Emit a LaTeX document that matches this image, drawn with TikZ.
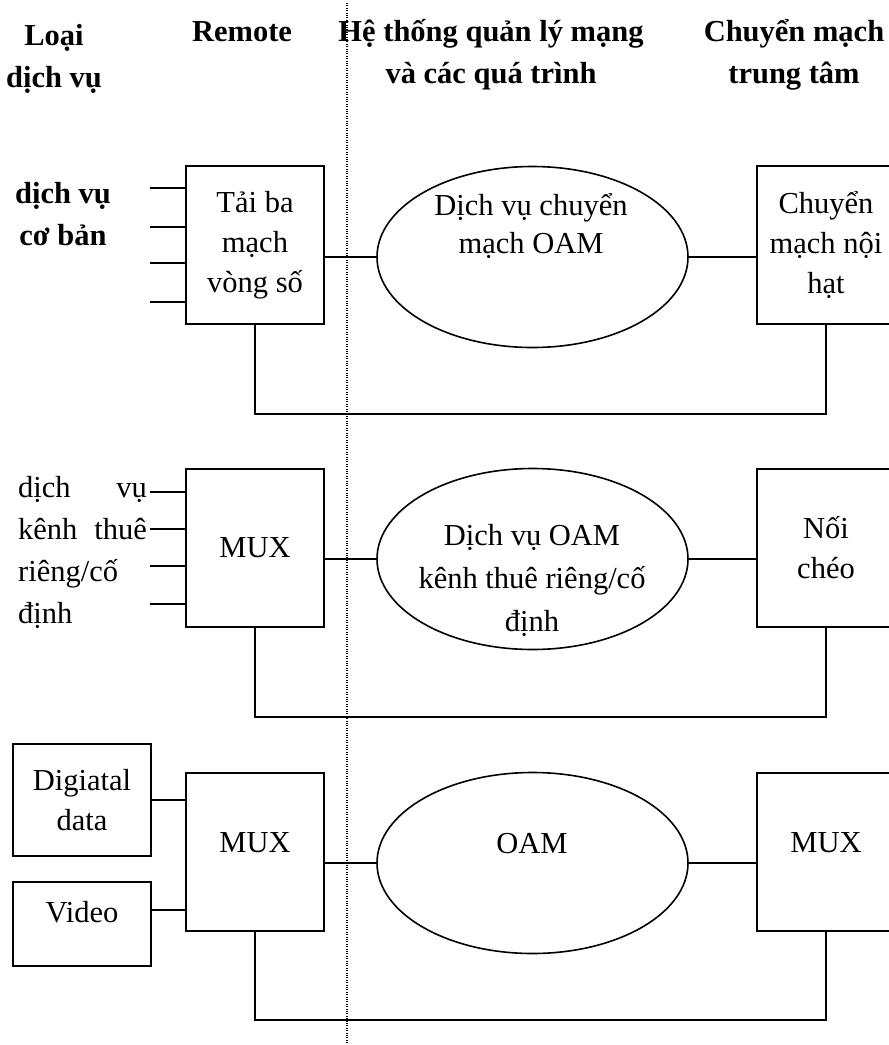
\documentclass[tikz,border=0pt]{standalone}
\usepackage{fontspec}
\setmainfont{Liberation Serif}
\usetikzlibrary{positioning, shapes.geometric}

\begin{document}
\begin{tikzpicture}[x=1pt, y=-1pt,
    every node/.style={font=\fontsize{30.5}{40}\selectfont, inner sep=0pt},
    blk/.style={draw, line width=1.6pt, minimum width=138, minimum height=158, align=center},
    oam/.style={draw, ellipse, line width=1.6pt, minimum width=311, minimum height=181},
    wire/.style={line width=1.6pt},
    hdr/.style={font=\fontsize{30.5}{42}\selectfont\bfseries, align=center},
    lift/.style={text depth=#1}]
  % page is 889 x 1045 px, 1 px = 1 pt, y grows downwards
  \useasboundingbox (0,0) rectangle (889,1045);

  % dotted separator between remote side and management side
  \draw[line width=1.1pt, dash pattern=on 1pt off 1.4pt] (347,3) -- (347,1045);

  % column headings
  \node[hdr] (hLoai) at (54,59) {Loại\\dịch vụ};
  \node[hdr, anchor=base] (hRemote) at (242,41) {Remote};
  \node[hdr] (hQuanLy) at (491,55) {Hệ thống quản lý mạng\\và các quá trình};
  \node[hdr] (hTrungTam) at (794,55) {Chuyển mạch\\trung tâm};

  % row 1: basic services
  \node[hdr] (lbCoBan) at (63,214) {dịch vụ\\cơ bản};
  \node[blk] (taiBa) at (255,245) {Tải ba\\mạch\\vòng số};
  \node[oam] (oamA) at (532.5,257) {};
  \node[align=center, font=\fontsize{30.5}{38}\selectfont] (tOamA) at (531,226) {Dịch vụ chuyển\\mạch OAM};
  \node[blk] (noiHat) at (826,245) {Chuyển\\mạch nội\\hạt};
  \foreach \y in {188,227,263,302}
    \draw[wire] (taiBa.west |- 0,\y) -- +(-35,0);
  \draw[wire] (taiBa.east |- oamA.west) -- (oamA.west);
  \draw[wire] (oamA.east) -- (oamA.east -| noiHat.west);
  \draw[wire] (taiBa.south) -- (taiBa.south |- 0,414) -| (noiHat.south);

  % row 2: leased / fixed line services
  \foreach \n/\y/\l/\r in {a/497/dịch/vụ, b/539/kênh/thuê} {
    \node[anchor=base west] (lb\n l) at (18,\y) {\l};
    \node[anchor=base east] (lb\n r) at (147,\y) {\r};
  }
  \node[anchor=base west] (lbc) at (18,581) {riêng/cố};
  \node[anchor=base west] (lbd) at (18,623) {định};
  \node[blk] (muxA) at (255,548) {MUX};
  \node[oam] (oamB) at (532.5,559) {};
  \node[align=center, font=\fontsize{30.5}{43}\selectfont] (tOamB) at (532,580) {Dịch vụ OAM\\kênh thuê riêng/cố\\định};
  \node[blk] (noiCheo) at (826,548) {Nối\\chéo};
  \foreach \y in {492,529,566,604}
    \draw[wire] (muxA.west |- 0,\y) -- +(-35,0);
  \draw[wire] (muxA.east |- oamB.west) -- (oamB.west);
  \draw[wire] (oamB.east) -- (oamB.east -| noiCheo.west);
  \draw[wire] (muxA.south) -- (muxA.south |- 0,717) -| (noiCheo.south);

  % row 3: data and video
  \node[blk, minimum height=112] (digData) at (82,800) {Digiatal\\data};
  \node[blk, minimum height=84, lift=24pt] (video) at (82,924) {Video};
  \node[blk, lift=18pt] (muxB) at (255,852) {MUX};
  \node[oam] (oamC) at (532.5,863) {};
  \node (tOamC) at (532,843.5) {OAM};
  \node[blk, lift=18pt] (muxC) at (826,852) {MUX};
  \draw[wire] (digData.east) -- (digData.east -| muxB.west);
  \draw[wire] ([yshift=14pt]video.east) -- ([yshift=14pt]video.east -| muxB.west);
  \draw[wire] (muxB.east |- oamC.west) -- (oamC.west);
  \draw[wire] (oamC.east) -- (oamC.east -| muxC.west);
  \draw[wire] (muxB.south) -- (muxB.south |- 0,1020) -| (muxC.south);
\end{tikzpicture}
\end{document}
